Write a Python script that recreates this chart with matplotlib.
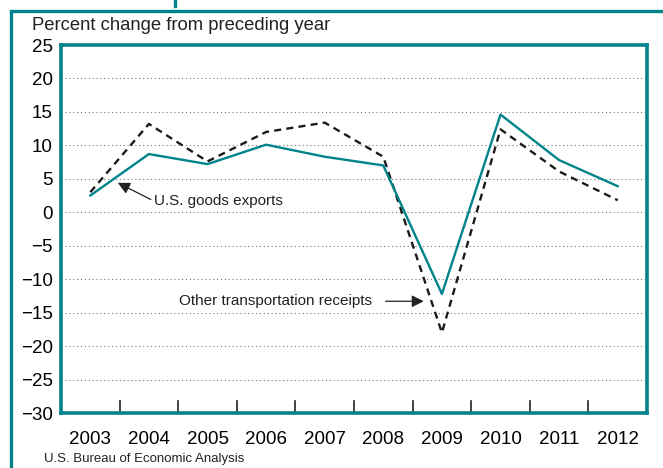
import matplotlib
matplotlib.use("Agg")
import matplotlib.pyplot as plt
from matplotlib.lines import Line2D
from matplotlib.patches import Rectangle
import numpy as np

years = ['2003', '2004', '2005', '2006', '2007', '2008', '2009', '2010', '2011', '2012']
goods_exports = [2.5, 8.7, 7.2, 10.1, 8.3, 7.0, -12.2, 14.6, 7.8, 3.9]
other_transport = [3.0, 13.2, 7.6, 12.0, 13.4, 8.3, -18.0, 12.4, 6.1, 1.8]
yticks = [25, 20, 15, 10, 5, 0, -5, -10, -15, -20, -25, -30]

TEAL = '#00838a'
plt.rcParams['font.family'] = ['Liberation Sans', 'DejaVu Sans']

fig = plt.figure(figsize=(6.63, 4.68), dpi=100)
W, H = 663.0, 468.0

# outer frame (runs off right and bottom of the picture)
fig.patches.append(Rectangle((10.5 / W, -0.1), 1.2, 1.1 - 11.5 / H, transform=fig.transFigure,
                             fill=False, edgecolor=TEAL, linewidth=2.4, zorder=0))
fig.add_artist(Line2D([175 / W, 175 / W], [1.0, 1 - 6 / H], transform=fig.transFigure,
                      color=TEAL, linewidth=2.4))

ax = fig.add_axes([61 / W, 1 - 413 / H, (647 - 61) / W, (413 - 45) / H])
x = np.arange(len(years))
ax.plot(x, other_transport, color='#1a1a1a', linestyle=(0, (3, 2.2)), linewidth=1.7, zorder=3)
ax.plot(x, goods_exports, color=TEAL, linewidth=1.7, zorder=4)

ax.set_xlim(-0.5, len(years) - 0.5)
ax.set_ylim(-30, 25)
ax.set_yticks(yticks)
ax.set_yticklabels([str(v).replace('-', '\u2212') for v in yticks], fontsize=13.5)
ax.tick_params(axis='y', length=0, pad=6)
ax.set_xticks(x)
ax.set_xticklabels(years, fontsize=13.5)
ax.tick_params(axis='x', length=0, pad=13)
for v in yticks[1:-1]:
    ax.axhline(v, color='#777777', linestyle=(0, (1, 2.5)), linewidth=0.8, zorder=1)
for k in range(1, len(years)):
    ax.plot([k - 0.5, k - 0.5], [-30, -28.2], color='#222222', linewidth=1.2, zorder=2)
for s in ax.spines.values():
    s.set_color(TEAL)
    s.set_linewidth(2.6)

ax.annotate('U.S. goods exports', xy=(0.47, 4.4), xytext=(1.08, 1.7),
            fontsize=11, va='center', ha='left', color='#222222',
            arrowprops=dict(arrowstyle='-|>', color='#222222', lw=0.9, mutation_scale=18,
                            shrinkA=0, shrinkB=0, relpos=(0, 0.5)))
ax.annotate('Other transportation receipts', xy=(4.81, -13.3), xytext=(4.81, -13.3),
            fontsize=11, va='center', ha='right', color='#222222')
ax.annotate('', xy=(5.69, -13.3), xytext=(5.04, -13.3),
            arrowprops=dict(arrowstyle='-|>', color='#222222', lw=0.9, mutation_scale=18,
                            shrinkA=0, shrinkB=0))

fig.text(32 / W, 1 - 25 / H, 'Percent change from preceding year', fontsize=13.3,
         va='center', ha='left', color='#222222')
fig.text(44 / W, 1 - 459 / H, 'U.S. Bureau of Economic Analysis', fontsize=9.5,
         va='center', ha='left', color='#222222')

fig.savefig('out.png', dpi=100)
